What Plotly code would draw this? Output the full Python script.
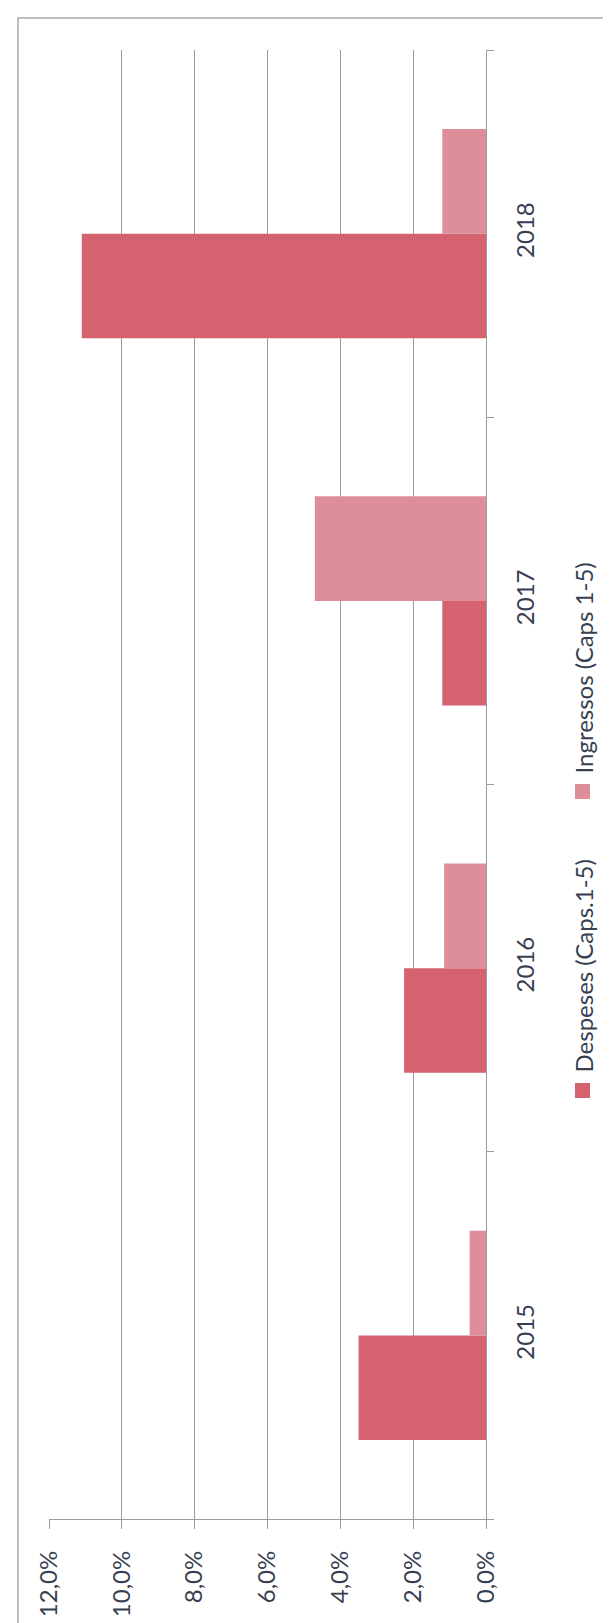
import plotly.graph_objects as go

# data read from the (rotated) scanned chart
years = ["2015", "2016", "2017", "2018"]
despeses = [3.5, 2.25, 1.2, 11.1]
ingressos = [0.45, 1.15, 4.7, 1.2]
value_ticks = [0, 2, 4, 6, 8, 10, 12]
value_tick_labels = ["0,0%", "2,0%", "4,0%", "6,0%", "8,0%", "10,0%", "12,0%"]
series_names = ["Despeses (Caps.1-5)", "Ingressos (Caps 1-5)"]

W, H = 611, 1623
L, R, T, B = 41, 133, 42, 112
plot_w = W - L - R
plot_h = H - T - B

C_DESP = "#d4636f"
C_ING = "#dd8e99"
TEXT = "#373f52"
GRID = "#9c9c9c"
FONT = "Lato"


def px_x(p):
    return (p - L) / plot_w


def px_y(p):
    return (H - B - p) / plot_h


fig = go.Figure()
fig.add_trace(
    go.Bar(y=years, x=despeses, orientation="h", name=series_names[0], marker=dict(color=C_DESP, line=dict(width=0)))
)
fig.add_trace(
    go.Bar(y=years, x=ingressos, orientation="h", name=series_names[1], marker=dict(color=C_ING, line=dict(width=0)))
)

fig.update_layout(
    width=W,
    height=H,
    margin=dict(l=L, r=R, t=T, b=B),
    paper_bgcolor="white",
    plot_bgcolor="white",
    barmode="group",
    bargap=0.43,
    bargroupgap=0,
    showlegend=False,
    font=dict(family=FONT, size=24, color=TEXT),
    xaxis=dict(
        range=[12, 0],
        tickvals=value_ticks,
        ticktext=value_tick_labels,
        tickangle=-90,
        showgrid=True,
        gridcolor=GRID,
        gridwidth=1.3,
        zeroline=False,
        showline=True,
        linecolor=GRID,
        linewidth=1.3,
        ticks="outside",
        ticklen=9,
        tickcolor=GRID,
        tickwidth=1.3,
        ticklabelstandoff=12,
    ),
    yaxis=dict(
        side="right",
        categoryorder="array",
        categoryarray=years,
        tickangle=-90,
        showgrid=False,
        zeroline=False,
        showline=True,
        linecolor=GRID,
        linewidth=1.3,
        ticks="outside",
        tickson="boundaries",
        ticklen=7,
        tickcolor=GRID,
        tickwidth=1.3,
        ticklabelstandoff=18,
    ),
)

# scanned page frame
fig.add_shape(
    type="rect",
    xref="paper",
    yref="paper",
    x0=px_x(10),
    x1=px_x(640),
    y0=px_y(1660),
    y1=px_y(10),
    line=dict(color="#ababab", width=1.5),
    layer="below",
)

# rotated legend
legend_items = [
    (series_names[0], C_DESP, 1090),
    (series_names[1], C_ING, 791),
]
for name, color, sq_bottom in legend_items:
    fig.add_shape(
        type="rect",
        xref="paper",
        yref="paper",
        x0=px_x(567),
        x1=px_x(582),
        y0=px_y(sq_bottom),
        y1=px_y(sq_bottom - 15),
        fillcolor=color,
        line=dict(width=0),
    )
    fig.add_annotation(
        text=name,
        xref="paper",
        yref="paper",
        x=px_x(575),
        y=px_y(sq_bottom - 23),
        xanchor="center",
        yanchor="bottom",
        textangle=-90,
        showarrow=False,
        font=dict(family=FONT, size=24, color=TEXT),
    )

fig.write_html("out.html")
